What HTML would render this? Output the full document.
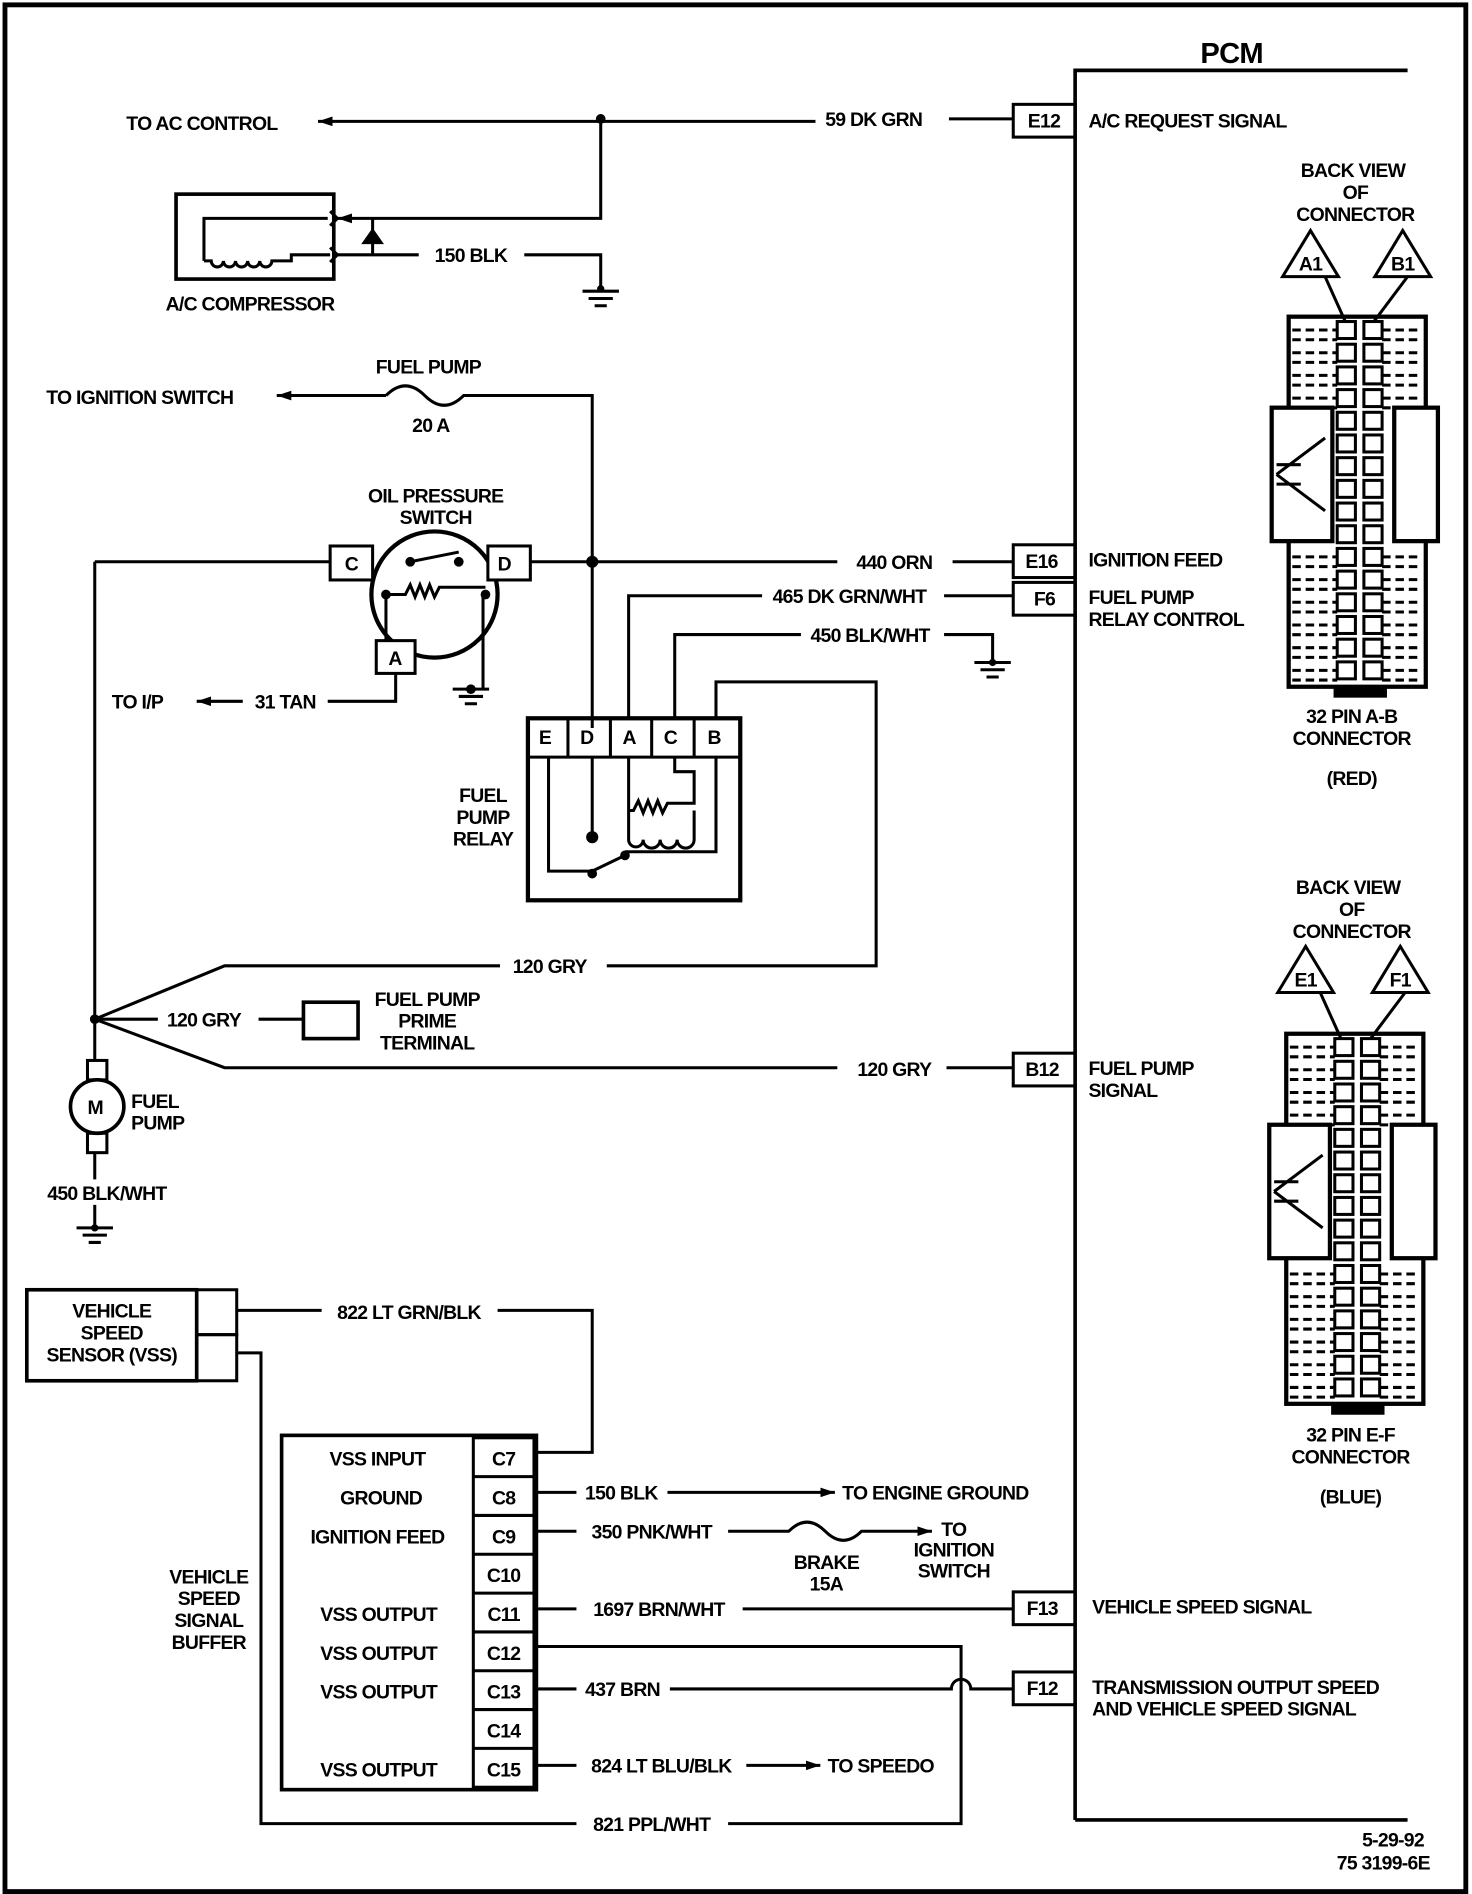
<!DOCTYPE html>
<html><head><meta charset="utf-8"><style>
html,body{margin:0;padding:0;background:#fff}
svg{display:block}
text{font-family:"Liberation Sans",sans-serif;font-weight:bold;font-size:16px;fill:#000;letter-spacing:-0.6px}
</style></head><body>
<svg id="s" width="1472" height="1894" viewBox="0 0 1213 1561" xmlns="http://www.w3.org/2000/svg">
<defs>
<marker id="ar" markerWidth="12" markerHeight="8" refX="0" refY="4" orient="auto" markerUnits="userSpaceOnUse"><path d="M12,0 L0,4 L12,8 Z" fill="#000"/></marker>
<marker id="ae" markerWidth="12" markerHeight="8" refX="12" refY="4" orient="auto" markerUnits="userSpaceOnUse"><path d="M0,0 L12,4 L0,8 Z" fill="#000"/></marker>
</defs>
<g fill="none" stroke="#000" stroke-width="2.5">
<rect x="4" y="4" width="1204" height="1555" stroke-width="4"/>
<path d="M886,1500 V58 H1160" stroke-width="3"/>
<path d="M886,1500 H1160" stroke-width="3"/>
<rect x="835" y="86" width="51" height="27"/>
<rect x="835" y="449" width="51" height="27"/>
<rect x="835" y="480" width="51" height="27"/>
<rect x="835" y="868" width="51" height="27"/>
<rect x="835" y="1312" width="51" height="27"/>
<rect x="835" y="1378" width="51" height="27"/>
<path d="M262,100 H672 M782,98 H835" marker-start="url(#ar)"/>
<path d="M495,98 V180 H278" marker-end="url(#ae)"/>
<path d="M278,210 H345 M432,210 H495 V238" />
<rect x="145" y="160" width="130" height="70" stroke-width="3"/>
<path d="M168,215 V180 H270 M168,215 h6 a5,5 0 0 0 10,0 a5,5 0 0 0 10,0 a5,5 0 0 0 10,0 a5,5 0 0 0 10,0 a5,5 0 0 0 10,0 H240 V210 H272"/>
<path d="M307,180 V210 M300,200 h14 M300,200 l7,-10 l7,10 z" fill="#000"/>
<path d="M278,180 l-6,-6 M278,180 l-6,6 M278,210 l-6,-6 M278,210 l-6,6"/>
<path d="M480,240 h30 M485,246 h20 M490,252 h10"/>
<path d="M803,546 h30 M808,552 h20 M813,558 h10"/>
<path d="M373,568 h30 M378,574 h20 M383,580 h10"/>
<path d="M63,1012 h30 M68,1018 h20 M73,1024 h10"/>
<path d="M228,326 H318" marker-start="url(#ar)"/>
<path d="M318,326 q16,-16 32,0 q16,16 32,0 H488 V600"/>
<circle cx="358" cy="490" r="52" stroke-width="3.5"/>
<rect x="272" y="450" width="35" height="28" fill="#fff"/>
<rect x="402" y="450" width="35" height="28" fill="#fff"/>
<rect x="310" y="528" width="32" height="27" fill="#fff"/>
<path d="M338,463 L378,455 M318,490 H334 l4,-8 l4,10 l4,-10 l4,10 l4,-10 l4,10 l4,-8 H400 M318,490 V528 M398,490 V568"/>
<path d="M78,463 H272 M437,463 H690 M785,463 H835"/>
<path d="M78,463 V840"/>
<path d="M518,592 V491 H628 M778,491 H835"/>
<path d="M556,592 V523 H660 M778,523 H818 V546"/>
<path d="M590,592 V562 H722 V796 H500 M412,796 H185 L78,840 L185,880 H690 M780,880 H835"/>
<path d="M326,555 V578 H270 M200,578 H162" marker-end="url(#ae)"/>
<rect x="435" y="592" width="175" height="150" stroke-width="3.5"/>
<path d="M435,624 H610 M468,592 V624 M503,592 V624 M537,592 V624 M572,592 V624"/>
<path d="M452,624 V718 H488 M488,624 V690 M590,624 V702 H515 M488,718 L515,705"/>
<path d="M518,624 V668 h4 l4,-8 l4,10 l4,-10 l4,10 l4,-10 l4,10 l4,-8 H572 V636 H556 V624 M518,668 V692 a6,6 0 0 0 12,0 a6,6 0 0 0 14,0 a6,6 0 0 0 14,0 a6,6 0 0 0 14,0 V668"/>
<path d="M78,840 H130 M213,840 H250"/>
<rect x="250" y="826" width="45" height="30" stroke-width="3"/>
<circle cx="80" cy="912" r="22" stroke-width="3"/>
<rect x="72" y="874" width="16" height="16"/><rect x="72" y="934" width="16" height="16"/>
<path d="M78,840 V874 M78,950 V972 M78,993 V1012"/>
<rect x="22" y="1063" width="140" height="75" stroke-width="3"/>
<rect x="162" y="1063" width="33" height="37"/><rect x="162" y="1100" width="33" height="38"/>
<path d="M195,1080 H265 M410,1080 H488 V1197 H440"/>
<path d="M195,1115 H215 V1503 H475 M600,1503 H792 V1357 H440"/>
<rect x="232" y="1183" width="210" height="292" stroke-width="3"/>
<rect x="390" y="1185" width="50" height="288"/>
<path d="M390,1217 H440 M390,1249 H440 M390,1281 H440 M390,1313 H440 M390,1345 H440 M390,1377 H440 M390,1409 H440 M390,1441 H440"/>
<path d="M440,1230 H475 M550,1230 H688" marker-end="url(#ae)"/>
<path d="M440,1262 H475 M600,1262 H650 q15,-15 30,0 q15,15 30,0 H768" marker-end="url(#ae)"/>
<path d="M440,1326 H475 M612,1326 H835"/>
<path d="M440,1392 H475 M552,1392 H784 a8,8 0 0 1 16,0 H835"/>
<path d="M440,1455 H475 M615,1455 H676" marker-end="url(#ae)"/>
<path d="M1057,228 L1080,190 L1103,228 Z M1133,228 L1156,190 L1179,228 Z M1092,228 L1110,268 M1160,228 L1130,268"/>
<path d="M1053,818 L1076,780 L1099,818 Z M1131,818 L1154,780 L1177,818 Z M1088,818 L1106,858 M1158,818 L1128,858"/>
</g>
<g id="conns" fill="none" stroke="#000"></g>
<g fill="#000">
<circle cx="495" cy="98" r="4"/><circle cx="488" cy="463" r="5"/><circle cx="488" cy="690" r="5"/><circle cx="488" cy="720" r="4"/><circle cx="515" cy="705" r="4"/>
<circle cx="338" cy="463" r="4"/><circle cx="378" cy="463" r="4"/><circle cx="318" cy="490" r="4"/><circle cx="400" cy="490" r="4"/><circle cx="388" cy="568" r="4"/><circle cx="78" cy="840" r="4"/><circle cx="495" cy="238" r="3"/><circle cx="818" cy="546" r="3"/><circle cx="78" cy="1012" r="3"/>
</g>
<text x="1015" y="52" text-anchor="middle" style="font-size:24px">PCM</text>
<text x="104" y="107">TO AC CONTROL</text>
<text x="720" y="104" text-anchor="middle">59 DK GRN</text>
<text x="897" y="105">A/C REQUEST SIGNAL</text>
<text x="847" y="105">E12</text>
<text x="388" y="216" text-anchor="middle">150 BLK</text>
<text x="206" y="256" text-anchor="middle">A/C COMPRESSOR</text>
<text x="38" y="333">TO IGNITION SWITCH</text>
<text x="353" y="308" text-anchor="middle">FUEL PUMP</text>
<text x="355" y="356" text-anchor="middle">20 A</text>
<text x="359" y="414" text-anchor="middle">OIL PRESSURE</text>
<text x="359" y="432" text-anchor="middle">SWITCH</text>
<text x="284" y="470">C</text><text x="410" y="470">D</text><text x="320" y="548">A</text>
<text x="737" y="469" text-anchor="middle">440 ORN</text>
<text x="845" y="468">E16</text><text x="897" y="467">IGNITION FEED</text>
<text x="700" y="497" text-anchor="middle">465 DK GRN/WHT</text>
<text x="852" y="499">F6</text><text x="897" y="498">FUEL PUMP</text><text x="897" y="516">RELAY CONTROL</text>
<text x="717" y="529" text-anchor="middle">450 BLK/WHT</text>
<text x="92" y="584">TO I/P</text><text x="235" y="584" text-anchor="middle">31 TAN</text>
<text x="444" y="613">E</text><text x="478" y="613">D</text><text x="513" y="613">A</text><text x="547" y="613">C</text><text x="583" y="613">B</text>
<text x="398" y="661" text-anchor="middle">FUEL</text><text x="398" y="679" text-anchor="middle">PUMP</text><text x="398" y="697" text-anchor="middle">RELAY</text>
<text x="453" y="802" text-anchor="middle">120 GRY</text>
<text x="168" y="846" text-anchor="middle">120 GRY</text>
<text x="352" y="829" text-anchor="middle">FUEL PUMP</text><text x="352" y="847" text-anchor="middle">PRIME</text><text x="352" y="865" text-anchor="middle">TERMINAL</text>
<text x="737" y="887" text-anchor="middle">120 GRY</text>
<text x="845" y="887">B12</text><text x="897" y="886">FUEL PUMP</text><text x="897" y="904">SIGNAL</text>
<text x="72" y="918">M</text>
<text x="108" y="913">FUEL</text><text x="108" y="931">PUMP</text>
<text x="88" y="989" text-anchor="middle">450 BLK/WHT</text>
<text x="92" y="1086" text-anchor="middle">VEHICLE</text><text x="92" y="1104" text-anchor="middle">SPEED</text><text x="92" y="1122" text-anchor="middle">SENSOR (VSS)</text>
<text x="337" y="1087" text-anchor="middle">822 LT GRN/BLK</text>
<text x="311" y="1208" text-anchor="middle">VSS INPUT</text><text x="314" y="1240" text-anchor="middle">GROUND</text><text x="311" y="1272" text-anchor="middle">IGNITION FEED</text>
<text x="312" y="1336" text-anchor="middle">VSS OUTPUT</text><text x="312" y="1368" text-anchor="middle">VSS OUTPUT</text><text x="312" y="1400" text-anchor="middle">VSS OUTPUT</text><text x="312" y="1464" text-anchor="middle">VSS OUTPUT</text>
<text x="415" y="1208" text-anchor="middle">C7</text><text x="415" y="1240" text-anchor="middle">C8</text><text x="415" y="1272" text-anchor="middle">C9</text><text x="415" y="1304" text-anchor="middle">C10</text><text x="415" y="1336" text-anchor="middle">C11</text><text x="415" y="1368" text-anchor="middle">C12</text><text x="415" y="1400" text-anchor="middle">C13</text><text x="415" y="1432" text-anchor="middle">C14</text><text x="415" y="1464" text-anchor="middle">C15</text>
<text x="172" y="1305" text-anchor="middle">VEHICLE</text><text x="172" y="1323" text-anchor="middle">SPEED</text><text x="172" y="1341" text-anchor="middle">SIGNAL</text><text x="172" y="1359" text-anchor="middle">BUFFER</text>
<text x="512" y="1236" text-anchor="middle">150 BLK</text><text x="694" y="1236">TO ENGINE GROUND</text>
<text x="537" y="1268" text-anchor="middle">350 PNK/WHT</text>
<text x="786" y="1266" text-anchor="middle">TO</text><text x="786" y="1283" text-anchor="middle">IGNITION</text><text x="786" y="1300" text-anchor="middle">SWITCH</text>
<text x="681" y="1293" text-anchor="middle">BRAKE</text><text x="681" y="1311" text-anchor="middle">15A</text>
<text x="543" y="1332" text-anchor="middle">1697 BRN/WHT</text>
<text x="846" y="1331">F13</text><text x="900" y="1330">VEHICLE SPEED SIGNAL</text>
<text x="513" y="1398" text-anchor="middle">437 BRN</text>
<text x="846" y="1397">F12</text><text x="900" y="1396">TRANSMISSION OUTPUT SPEED</text><text x="900" y="1414">AND VEHICLE SPEED SIGNAL</text>
<text x="545" y="1461" text-anchor="middle">824 LT BLU/BLK</text><text x="682" y="1461">TO SPEEDO</text>
<text x="537" y="1509" text-anchor="middle">821 PPL/WHT</text>
<text x="1148" y="1522" text-anchor="middle">5-29-92</text><text x="1140" y="1541" text-anchor="middle">75 3199-6E</text>
<text x="1115" y="146" text-anchor="middle">BACK VIEW</text><text x="1117" y="164" text-anchor="middle">OF</text><text x="1117" y="182" text-anchor="middle">CONNECTOR</text>
<text x="1080" y="223" text-anchor="middle">A1</text><text x="1156" y="223" text-anchor="middle">B1</text>
<text x="1114" y="596" text-anchor="middle">32 PIN A-B</text><text x="1114" y="614" text-anchor="middle">CONNECTOR</text><text x="1114" y="647" text-anchor="middle">(RED)</text>
<text x="1111" y="737" text-anchor="middle">BACK VIEW</text><text x="1114" y="755" text-anchor="middle">OF</text><text x="1114" y="773" text-anchor="middle">CONNECTOR</text>
<text x="1076" y="813" text-anchor="middle">E1</text><text x="1154" y="813" text-anchor="middle">F1</text>
<text x="1113" y="1188" text-anchor="middle">32 PIN E-F</text><text x="1113" y="1206" text-anchor="middle">CONNECTOR</text><text x="1113" y="1239" text-anchor="middle">(BLUE)</text>
</svg>
<script>
(function(){
var g=document.getElementById('conns'),ns='http://www.w3.org/2000/svg';
function el(t,a){var e=document.createElementNS(ns,t);for(var k in a)e.setAttribute(k,a[k]);g.appendChild(e);}
function conn(x0,y0){
 var H=305,p=18.7;
 el('rect',{x:x0,y:y0,width:113,height:H,'stroke-width':3.5});
 el('rect',{x:x0-14,y:y0+75,width:50,height:110,'stroke-width':3.5,fill:'#fff'});
 el('rect',{x:x0+87,y:y0+75,width:36,height:110,'stroke-width':3.5,fill:'#fff'});
 el('path',{d:'M'+(x0-10)+','+(y0+130)+' L'+(x0+30)+','+(y0+100)+' M'+(x0-10)+','+(y0+130)+' L'+(x0+30)+','+(y0+160)+' M'+(x0-10)+','+(y0+122)+' H'+(x0+10)+' M'+(x0-10)+','+(y0+138)+' H'+(x0+10),'stroke-width':2.5});
 for(var i=0;i<16;i++){var y=y0+4+i*p;
  el('rect',{x:x0+40,y:y,width:15,height:14,'stroke-width':2.5,fill:'#fff'});
  el('rect',{x:x0+62,y:y,width:15,height:14,'stroke-width':2.5,fill:'#fff'});
  if(i<4||i>9){el('path',{d:'M'+(x0+3)+','+(y+7)+' h37 M'+(x0+77)+','+(y+7)+' h33','stroke-width':2.5,'stroke-dasharray':'7,4'});
   el('path',{d:'M'+(x0+3)+','+(y+15)+' h37 M'+(x0+77)+','+(y+15)+' h33','stroke-width':2.5,'stroke-dasharray':'7,4'});}
 }
 el('rect',{x:x0+38,y:y0+H,width:42,height:8,'stroke-width':2,fill:'#000'});
}
conn(1062,261);conn(1060,852);
})();
</script>
</body></html>
